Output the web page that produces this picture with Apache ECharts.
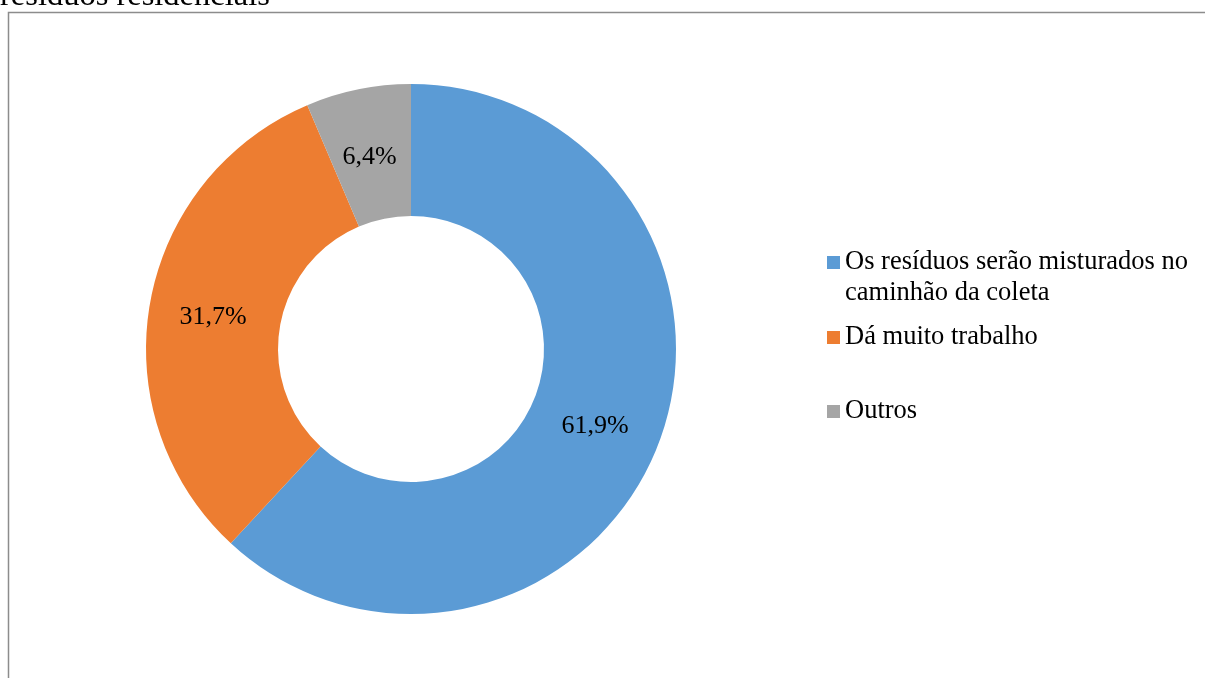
<!DOCTYPE html>
<html>
<head>
<meta charset="utf-8">
<script src="https://cdn.jsdelivr.net/npm/echarts@6/dist/echarts.min.js"></script>
<style>
  html, body { margin: 0; padding: 0; background: #fff; }
  #chart { width: 1205px; height: 678px; }
</style>
</head>
<body>
<div id="chart"></div>
<script>
const categories = ['Os resíduos serão misturados no caminhão da coleta', 'Dá muito trabalho', 'Outros']
const values = [61.9, 31.7, 6.4]
const colors = ['#5b9bd5', '#ed7d31', '#a5a5a5']
// leading blank line keeps the first line level with the marker
const legendLabels = ['\nOs resíduos serão misturados no\ncaminhão da coleta', 'Dá muito trabalho', 'Outros']

const font = '"Liberation Serif", "Times New Roman", serif'
const chart = echarts.init(document.getElementById('chart'))

// one legend per entry so the uneven spacing of the original can be kept
const legendTops = [216, 322, 396]
const legends = categories.map((name, i) => ({
  data: [name],
  orient: 'vertical',
  left: 827,
  top: legendTops[i],
  padding: 0,
  itemWidth: 13,
  itemHeight: 13,
  icon: 'rect',
  selectedMode: false,
  formatter: () => legendLabels[i],
  textStyle: {
    fontFamily: font,
    fontSize: 26.5,
    color: '#000',
    lineHeight: 31,
  },
}))

// small nudges so the labels sit where Excel put them
const labelOffsets = [[-4, 3], [1, 3], [-1, 6]]

const option = {
  animation: false,
  color: colors,
  title: {
    text: 'resíduos residenciais',
    left: 0,
    top: -20,
    padding: 0,
    textStyle: { fontFamily: font, fontSize: 32.5, fontWeight: 'normal', color: '#000' },
  },
  legend: legends,
  graphic: [
    {
      type: 'polyline',
      shape: { points: [[8.5, 678], [8.5, 12.5], [1205, 12.5]] },
      style: { stroke: '#8c8c8c', lineWidth: 1.5, fill: null },
      silent: true,
    },
  ],
  series: [
    {
      type: 'pie',
      center: [411, 349],
      radius: [133, 265],
      startAngle: 90,
      clockwise: true,
      silent: true,
      label: {
        position: 'inside',
        fontFamily: font,
        fontSize: 26,
        color: '#000',
        formatter: (p) => p.value.toFixed(1).replace('.', ',') + '%',
      },
      labelLine: { show: false },
      data: categories.map((name, i) => ({
        name,
        value: values[i],
        label: { offset: labelOffsets[i] },
      })),
    },
  ],
}

chart.setOption(option)
</script>
</body>
</html>
